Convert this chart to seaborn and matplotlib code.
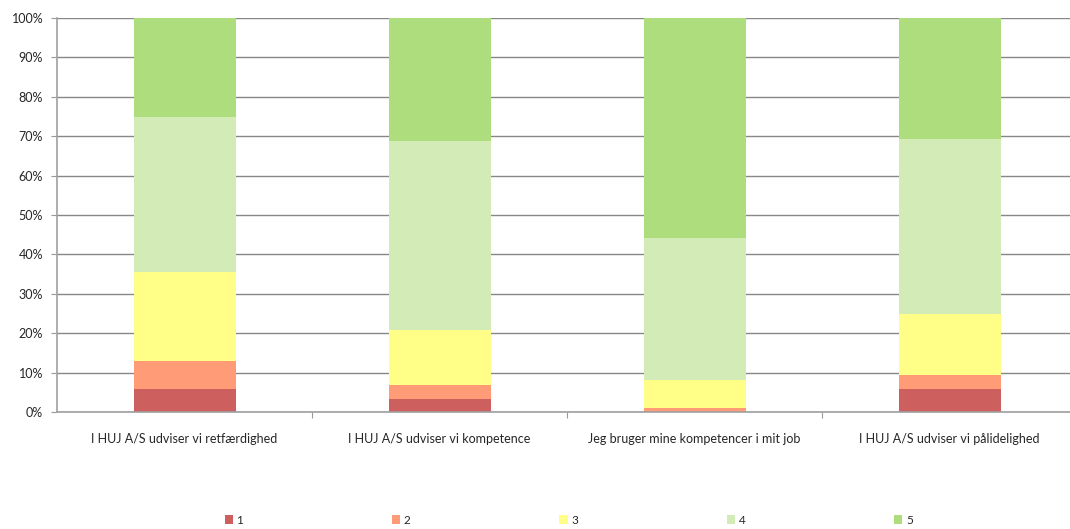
import matplotlib.pyplot as plt
import seaborn as sns
import pandas as pd
import numpy as np

# data (percent of answers per rating)
questions = ["I HUJ A/S udviser vi retfærdighed",
             "I HUJ A/S udviser vi kompetence",
             "Jeg bruger mine kompetencer i mit job",
             "I HUJ A/S udviser vi pålidelighed"]
ratings = ["1", "2", "3", "4", "5"]
r1 = [5.8, 3.3, 0.0, 5.8]
r2 = [7.1, 3.5, 1.0, 3.6]
r3 = [22.7, 14.0, 7.2, 15.6]
r4 = [39.4, 48.0, 36.0, 44.2]
r5 = [25.0, 31.2, 55.8, 30.8]
colors = ["#CD5F5F", "#FF9C77", "#FFFF88", "#D2EBB7", "#AEDD7E"]

sns.set_style("white")
plt.rcParams['font.family'] = ['Lato', 'DejaVu Sans']

df = pd.DataFrame({"question": questions, "1": r1, "2": r2, "3": r3, "4": r4, "5": r5})
cum = df[ratings].cumsum(axis=1)

fig = plt.figure(figsize=(10.7, 5.29), dpi=100)
ax = fig.add_axes([57 / 1070, 1 - 412 / 529, 1020 / 1070, 394 / 529])

# stacked bars: draw cumulative totals from top segment down
for r, c in reversed(list(zip(ratings, colors))):
    sns.barplot(x=df["question"], y=cum[r], color=c, width=0.4, ax=ax,
                saturation=1, edgecolor="none", linewidth=0, label=r, zorder=2)

ax.set_ylim(0, 100)
ax.set_xlim(-0.5, 3.5)
ax.set_yticks(np.arange(0, 101, 10))
ax.set_yticklabels([f"{v}%" for v in range(0, 101, 10)], fontsize=9)
ax.yaxis.grid(True, color="#878787", linewidth=1, zorder=0)
ax.set_axisbelow(True)

ax.set_xticks([0.5, 1.5, 2.5])
ax.set_xticklabels([])
ax.set_xticks(range(4), minor=True)
ax.set_xticklabels(questions, minor=True, fontsize=9)
ax.tick_params(axis="x", which="major", direction="out", length=4, color="#999999", bottom=True)
ax.tick_params(axis="x", which="minor", length=0, pad=15)
ax.tick_params(axis="y", direction="out", length=4, color="#999999", left=True, pad=6)
ax.set_xlabel("")
ax.set_ylabel("")

for s in ["top", "right"]:
    ax.spines[s].set_visible(False)
for s in ["left", "bottom"]:
    ax.spines[s].set_color("#A0A0A0")
    ax.spines[s].set_linewidth(1.2)

handles, labels = ax.get_legend_handles_labels()
order = sorted(range(len(labels)), key=lambda i: labels[i])
ax.legend([handles[i] for i in order], [labels[i] for i in order],
          loc="center left", bbox_to_anchor=(214 / 1070, 1 - 520 / 529), bbox_transform=fig.transFigure,
          ncol=5, frameon=False, fontsize=8.5, handlelength=0.7, handleheight=0.7,
          handletextpad=0.3, columnspacing=12.6)

fig.savefig("out.png", dpi=100)
